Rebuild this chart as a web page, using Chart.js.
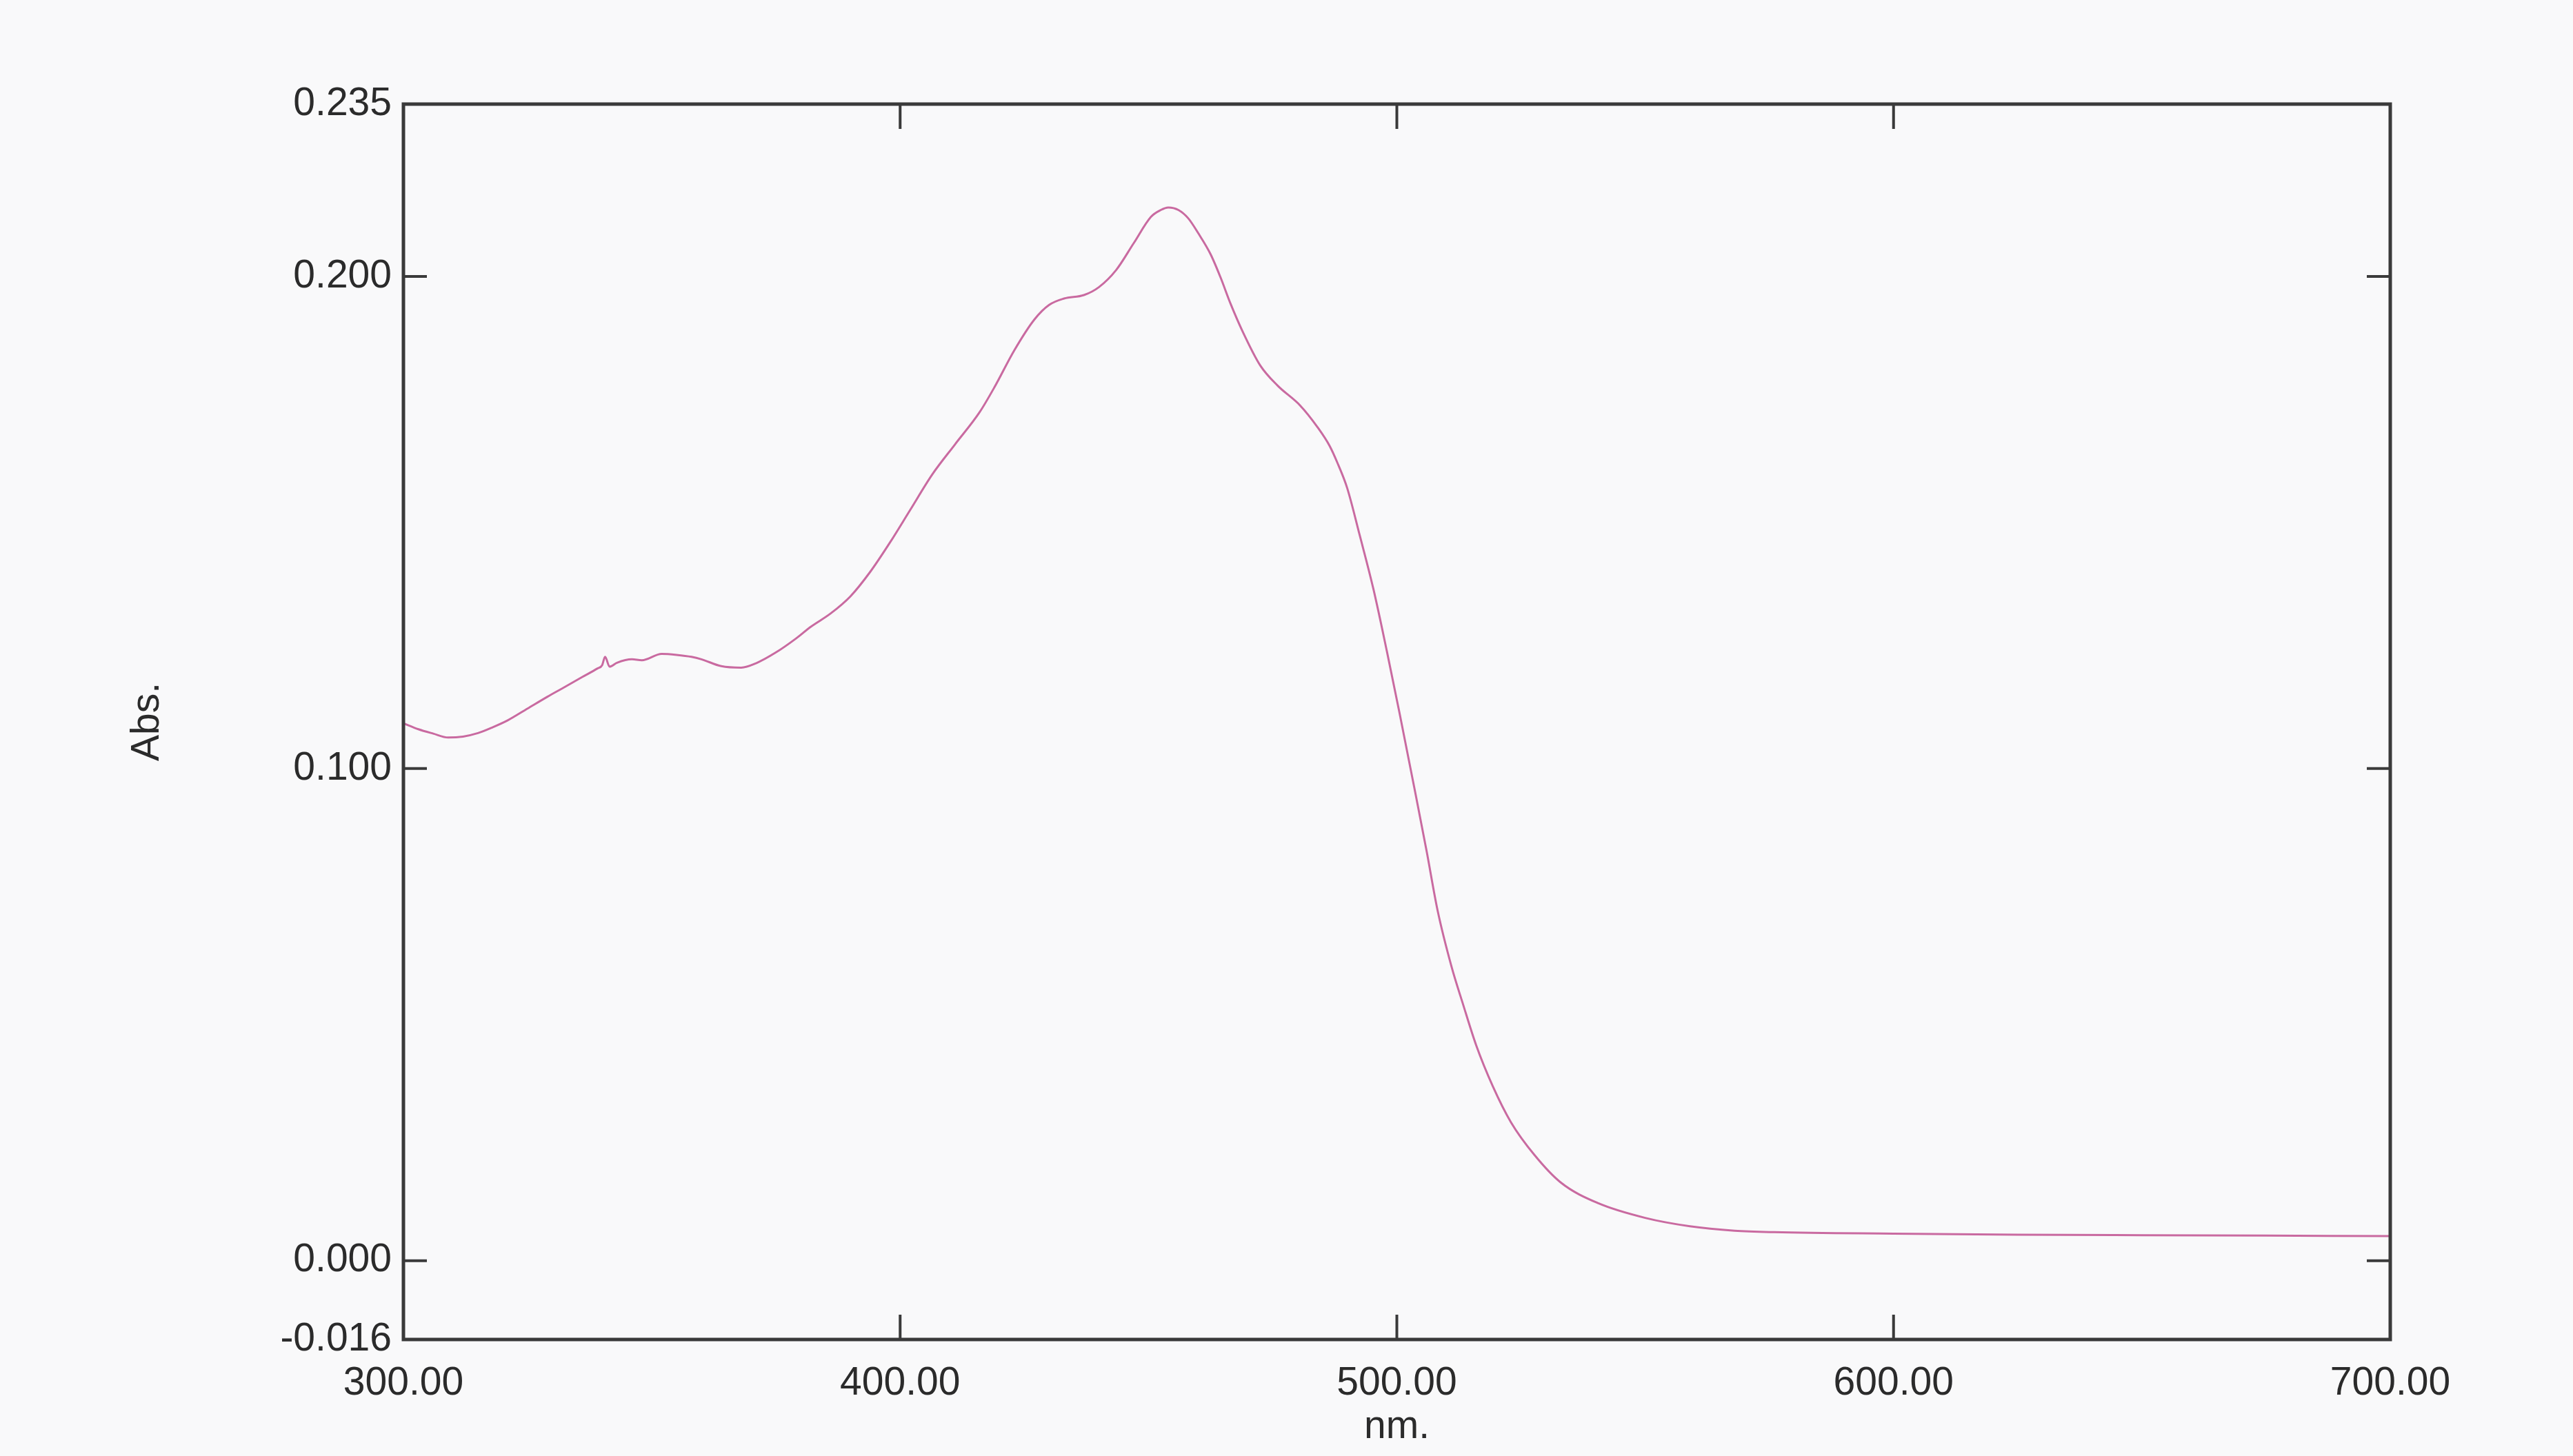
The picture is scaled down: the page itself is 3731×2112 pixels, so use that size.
<!DOCTYPE html>
<html>
<head>
<meta charset="utf-8">
<script src="https://cdn.jsdelivr.net/npm/chart.js@4.4.1/dist/chart.umd.min.js"></script>
<style>
  html, body { margin: 0; padding: 0; background: #f9f9fa; overflow: hidden; }
  #wrap { position: absolute; left: 0; top: 0; width: 3731px; height: 2094px; overflow: hidden; }
  #c { display: block; }
</style>
</head>
<body>
<div id="wrap"><canvas id="c" width="3731" height="2140" style="width:3731px;height:2140px"></canvas></div>
<script>
// Wavelength (nm)
const wavelengths = [300, 303, 306, 309, 312, 315, 318, 321, 325, 329, 332, 336, 339, 340, 340.6, 341.5, 343, 346, 348, 352, 355, 358, 360, 364, 368, 371, 375, 379, 382, 386, 390, 394, 398, 402, 406.5, 411, 416, 419, 423, 427, 430, 433, 437, 440, 443.5, 447, 450.5, 452.5, 454, 456, 458, 460, 462.5, 464.5, 466.5, 469, 472.5, 476, 480.5, 484, 486.5, 488, 490, 492.5, 495.3, 498, 500.5, 503.5, 506, 508.2, 511, 513.3, 516, 519.3, 523, 527.7, 533, 540.5, 550, 559, 568, 576, 600, 625, 650, 675, 700];
// Absorbance (Abs.)
const absorbance = [0.1092, 0.1080, 0.1071, 0.1063, 0.1065, 0.1072, 0.1084, 0.1098, 0.1122, 0.1146, 0.1163, 0.1186, 0.1203, 0.1210, 0.1227, 0.1207, 0.1215, 0.1222, 0.1220, 0.1233, 0.1231, 0.1227, 0.1222, 0.1208, 0.1205, 0.1214, 0.1236, 0.1264, 0.1288, 0.1315, 0.1350, 0.1400, 0.1460, 0.1525, 0.1598, 0.1658, 0.1724, 0.1775, 0.1850, 0.1912, 0.1942, 0.1955, 0.1962, 0.1978, 0.2013, 0.2067, 0.2121, 0.2135, 0.2140, 0.2135, 0.2118, 0.2088, 0.2045, 0.1998, 0.1945, 0.1887, 0.1819, 0.1778, 0.1738, 0.1694, 0.1655, 0.1622, 0.1570, 0.1475, 0.1364, 0.1238, 0.1115, 0.0962, 0.0832, 0.0712, 0.0598, 0.0522, 0.0437, 0.0355, 0.0281, 0.0215, 0.0159, 0.0117, 0.0087, 0.0070, 0.0061, 0.0058, 0.0055, 0.0053, 0.0052, 0.0051, 0.0050];

const xTickLabels = [300, 400, 500, 600, 700];
const yTickLabels = [-0.016, 0.000, 0.100, 0.200, 0.235];
const xInnerTicks = [400, 500, 600];
const yInnerTicks = [0.000, 0.100, 0.200];

const FONT = "'Liberation Sans', Arial, sans-serif";
const TEXT = '#2b2b2b';
const AXIS = '#3a3a3a';

const framePlugin = {
  id: 'frame',
  afterDatasetsDraw(chart) {
    const {ctx, chartArea: a, scales: {x, y}} = chart;
    ctx.save();
    ctx.strokeStyle = AXIS;
    ctx.lineWidth = 5;
    ctx.strokeRect(a.left, a.top, a.right - a.left, a.bottom - a.top);
    ctx.lineWidth = 4;
    ctx.beginPath();
    xInnerTicks.forEach(v => {
      const px = x.getPixelForValue(v);
      ctx.moveTo(px, a.bottom); ctx.lineTo(px, a.bottom - 36);
      ctx.moveTo(px, a.top); ctx.lineTo(px, a.top + 36);
    });
    yInnerTicks.forEach(v => {
      const py = y.getPixelForValue(v);
      ctx.moveTo(a.left, py); ctx.lineTo(a.left + 34, py);
      ctx.moveTo(a.right, py); ctx.lineTo(a.right - 34, py);
    });
    ctx.stroke();
    ctx.restore();
  }
};

new Chart(document.getElementById('c'), {
  type: 'line',
  data: {
    datasets: [{
      data: wavelengths.map((w, i) => ({x: w, y: absorbance[i]})),
      borderColor: '#c96aa0',
      borderWidth: 3,
      pointRadius: 0,
      cubicInterpolationMode: 'monotone',
      fill: false
    }]
  },
  options: {
    responsive: false,
    animation: false,
    layout: { padding: { left: 0, right: 265, top: 151, bottom: 0 } },
    plugins: { legend: { display: false }, tooltip: { enabled: false } },
    scales: {
      x: {
        type: 'linear',
        min: 300, max: 700,
        grid: { display: false, drawTicks: false },
        border: { display: false },
        afterBuildTicks: s => { s.ticks = xTickLabels.map(v => ({value: v})); },
        afterFit: s => { s.height = 197; },
        ticks: {
          padding: 30,
          color: TEXT,
          font: { family: FONT, size: 57 },
          maxRotation: 0,
          callback: v => Number(v).toFixed(2)
        },
        title: {
          display: true,
          text: 'nm.',
          color: TEXT,
          font: { family: FONT, size: 57 },
          padding: { top: 0, bottom: 36 }
        }
      },
      y: {
        type: 'linear',
        min: -0.016, max: 0.235,
        grid: { display: false, drawTicks: false },
        border: { display: false },
        afterBuildTicks: s => { s.ticks = yTickLabels.map(v => ({value: v})); },
        afterFit: s => { s.width = 585; },
        ticks: {
          padding: 17,
          color: TEXT,
          font: { family: FONT, size: 57 },
          callback: v => Number(v).toFixed(3)
        },
        title: {
          display: true,
          text: 'Abs.',
          color: TEXT,
          font: { family: FONT, size: 57 },
          padding: { top: 180, bottom: 0 }
        }
      }
    }
  },
  plugins: [framePlugin]
});
</script>
</body>
</html>
